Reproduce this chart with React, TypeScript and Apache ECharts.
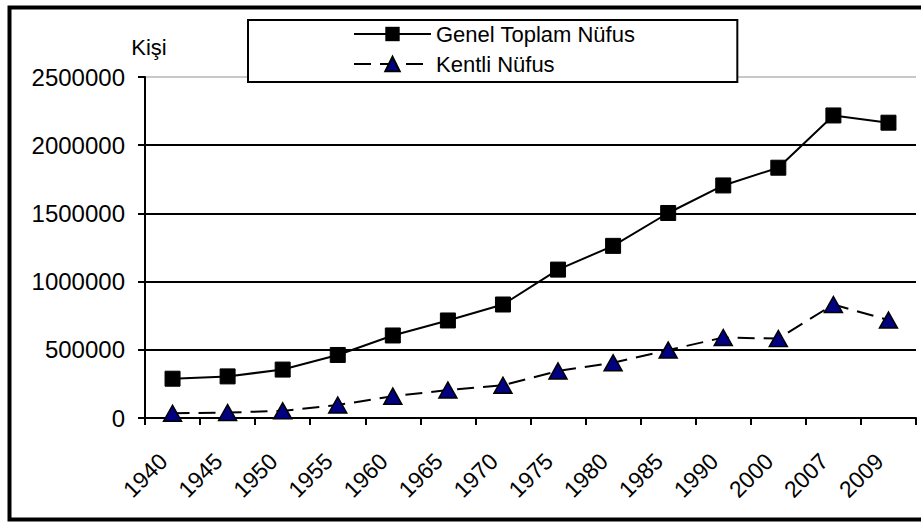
import React, { useEffect, useRef } from "react";
import * as echarts from "echarts";

const years = ["1940", "1945", "1950", "1955", "1960", "1965", "1970", "1975", "1980", "1985", "1990", "2000", "2007", "2009"];
const genelToplam = [288000, 305000, 355000, 462000, 605000, 715000, 832000, 1088000, 1262000, 1503000, 1705000, 1835000, 2218000, 2165000];
const kentli = [35000, 40000, 52000, 95000, 160000, 205000, 240000, 345000, 405000, 498000, 590000, 582000, 832000, 718000];
const yTicks = [0, 500000, 1000000, 1500000, 2000000, 2500000];

const FONT = "'Liberation Sans', Arial, sans-serif";

export default function App() {
  const ref = useRef<HTMLDivElement>(null);
  useEffect(() => {
    if (!ref.current) return;
    const chart = echarts.init(ref.current, null, { renderer: "svg" });
    chart.setOption({
      animation: false,
      backgroundColor: "#ffffff",
      textStyle: { fontFamily: FONT, color: "#000" },
      graphic: [
        {
          type: "rect",
          shape: { x: 9.5, y: 7.5, width: 940, height: 512 },
          style: { fill: "none", stroke: "#000", lineWidth: 4 },
          z: 100,
        },
      ],
      legend: {
        orient: "vertical",
        left: 248,
        top: 20,
        padding: [2, 102, 6, 105],
        itemWidth: 77,
        itemHeight: 18,
        itemGap: 6,
        backgroundColor: "#fff",
        borderColor: "#000",
        borderWidth: 2,
        textStyle: { fontSize: 22, lineHeight: 24, fontFamily: FONT, color: "#000" },
        data: ["Genel Toplam Nüfus", "Kentli Nüfus"],
        z: 10,
      },
      grid: { left: 145, right: 5, top: 77, bottom: 104, containLabel: false },
      xAxis: {
        type: "category",
        data: years,
        boundaryGap: true,
        axisLine: { lineStyle: { color: "#000", width: 2 } },
        axisTick: { show: true, length: 7, interval: 0, lineStyle: { color: "#000", width: 2 } },
        axisLabel: {
          rotate: 45,
          fontSize: 23,
          margin: 30,
          padding: [0, 13, 0, 0],
          color: "#000",
          fontFamily: FONT,
          interval: 0,
        },
        splitLine: { show: false },
      },
      yAxis: {
        type: "value",
        min: 0,
        max: 2500000,
        interval: 500000,
        name: "Kişi",
        nameLocation: "end",
        nameGap: 19,
        nameTextStyle: { fontSize: 22, color: "#000", fontFamily: FONT, align: "center", padding: [0, 0, 0, 8] },
        axisLine: { show: true, lineStyle: { color: "#000", width: 2 } },
        axisTick: { show: true, length: 7, lineStyle: { color: "#000", width: 2 } },
        axisLabel: {
          fontSize: 24,
          margin: 20,
          color: "#000",
          fontFamily: FONT,
          formatter: (v: number) => (yTicks.includes(v) ? String(v) : ""),
        },
        splitLine: {
          show: true,
          lineStyle: { color: ["#000", "#000", "#000", "#000", "#000", "#c8c8c8"], width: 2 },
        },
      },
      series: [
        {
          name: "Genel Toplam Nüfus",
          type: "line",
          data: genelToplam,
          symbol: "rect",
          symbolSize: 15,
          lineStyle: { color: "#000", width: 2 },
          itemStyle: { color: "#000", borderColor: "#000" },
          z: 3,
        },
        {
          name: "Kentli Nüfus",
          type: "line",
          data: kentli,
          symbol: "triangle",
          symbolSize: [18, 16],
          lineStyle: { color: "#000", width: 2, type: [17, 9] },
          itemStyle: { color: "#000080", borderColor: "#000", borderWidth: 1.5 },
          z: 2,
        },
      ],
    });
    return () => chart.dispose();
  }, []);
  return (
    <div
      ref={ref}
      style={{ position: "fixed", left: 0, top: 0, width: 921, height: 522 }}
    />
  );
}
